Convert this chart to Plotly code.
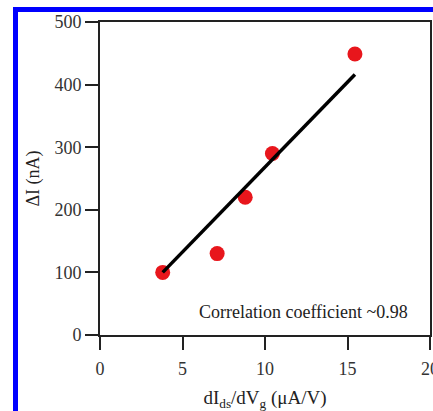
import plotly.graph_objects as go

x_vals = [3.8, 7.1, 8.8, 10.45, 15.45]
y_vals = [100, 130, 220, 290, 449]
fit_x = [3.8, 15.45]
fit_y = [100, 416]
x_ticks = [0, 5, 10, 15, 20]
y_ticks = [0, 100, 200, 300, 400, 500]

L, T, W, H = 100, 22, 330, 313
FONT = "Liberation Serif"

def px(x):
    return (x - L) / W

def py(y):
    return (T + H - y) / H

fig = go.Figure()
fig.add_trace(go.Scatter(x=x_vals, y=y_vals, mode="markers",
                         marker=dict(color="#e8161c", size=15, line=dict(width=0)),
                         showlegend=False, cliponaxis=False))
fig.add_trace(go.Scatter(x=fit_x, y=fit_y, mode="lines",
                         line=dict(color="black", width=3.5), showlegend=False))

fig.add_annotation(x=12.35, y=37, text="Correlation coefficient ~0.98", showarrow=False,
                   font=dict(family=FONT, size=18, color="#222"))

axis_common = dict(showgrid=False, zeroline=False, showline=True, linecolor="#222",
                   linewidth=2, mirror=True, ticks="outside", ticklen=13, tickwidth=2,
                   tickcolor="#222", automargin=False, ticklabeloverflow="allow",
                   tickfont=dict(family=FONT, size=18, color="#333"))

fig.update_xaxes(range=[0, 20], tickvals=x_ticks, ticklabelstandoff=3, **axis_common,
                 title=dict(text="dI<sub>ds</sub>/dV<sub>g</sub> (μA/V)", standoff=14,
                            font=dict(family=FONT, size=19, color="#222")))
fig.update_yaxes(range=[0, 500], tickvals=y_ticks, **axis_common,
                 title=dict(text="ΔI (nA)", standoff=10,
                            font=dict(family=FONT, size=18, color="#222")))

fig.add_shape(type="rect", xref="paper", yref="paper", x0=px(13), x1=px(18),
              y0=py(430), y1=py(7), fillcolor="#0000ff", line=dict(width=0), layer="above")
fig.add_shape(type="rect", xref="paper", yref="paper", x0=px(13), x1=px(445),
              y0=py(12), y1=py(7), fillcolor="#0000ff", line=dict(width=0), layer="above")

fig.update_layout(width=433, height=411, margin=dict(l=L, r=433 - L - W, t=T, b=411 - T - H),
                  plot_bgcolor="white", paper_bgcolor="white")
fig.write_html("out.html", config={"displayModeBar": False},
               post_script="document.body.style.margin='0';document.body.style.overflow='hidden';")
